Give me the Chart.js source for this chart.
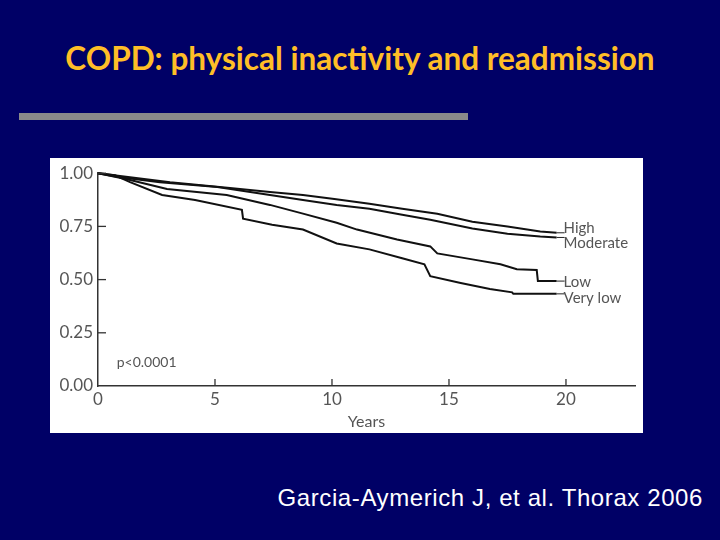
<!DOCTYPE html>
<html>
<head>
<meta charset="utf-8">
<script src="https://cdn.jsdelivr.net/npm/chart.js@4"></script>
<style>
  html, body { margin: 0; padding: 0; }
  body { width: 720px; height: 540px; background: #000066; position: relative; overflow: hidden; }
  #titulo { position: absolute; left: 0; top: 39px; width: 720px; text-align: center;
    font-family: Lato, sans-serif; font-weight: bold; font-size: 31.5px; color: #ffbe27; }
  #barra { position: absolute; left: 19px; top: 113px; width: 449px; height: 7px; background: #8a8a8a; }
  #painel { position: absolute; left: 50px; top: 158px; width: 593px; height: 275px; background: #fff; }
  #citacao { position: absolute; right: 17px; top: 484px; font-family: "Liberation Sans", Arial, sans-serif;
    font-size: 24px; letter-spacing: 0.6px; color: #fff; }
</style>
</head>
<body>
<div id="titulo">COPD: physical inactivity and readmission</div>
<div id="barra"></div>
<div id="painel"><canvas id="kmChart" width="593" height="275"></canvas></div>
<div id="citacao">Garcia-Aymerich J, et al. Thorax 2006</div>
<script>
// Curvas de Kaplan-Meier (anos, proporção sem readmissão)
const grupos = ["High", "Moderate", "Low", "Very low"];

const anosHigh = [0, 1.37, 3.08, 5.64, 7.35, 8.76, 10.1, 11.6, 13.0, 14.5, 16.0, 17.5, 18.9, 19.6];
const survHigh = [1.0, 0.981, 0.958, 0.93, 0.912, 0.898, 0.879, 0.856, 0.833, 0.809, 0.772, 0.749, 0.726, 0.72];

const anosModerate = [0, 0.94, 2.65, 5.1, 7.35, 8.76, 10.2, 11.6, 13.0, 14.2, 16.0, 17.5, 18.9, 19.6];
const survModerate = [1.0, 0.981, 0.958, 0.935, 0.898, 0.874, 0.851, 0.833, 0.805, 0.781, 0.74, 0.716, 0.702, 0.698];

const anosLow = [0, 1.24, 2.95, 5.5, 7.35, 8.76, 10.2, 11.07, 12.78, 14.2, 14.5, 16.0, 17.2, 17.9, 18.75, 18.8, 19.6];
const survLow = [1.0, 0.972, 0.926, 0.898, 0.851, 0.81, 0.767, 0.735, 0.688, 0.656, 0.623, 0.595, 0.572, 0.549, 0.545, 0.493, 0.493];

const anosVeryLow = [0, 0.73, 1.37, 2.74, 4.15, 6.15, 6.2, 7.44, 8.76, 10.2, 11.6, 13.0, 13.95, 14.2, 15.5, 16.75, 17.7, 17.75, 19.6];
const survVeryLow = [1.0, 0.99, 0.958, 0.898, 0.874, 0.828, 0.786, 0.758, 0.735, 0.67, 0.642, 0.60, 0.572, 0.516, 0.484, 0.456, 0.44, 0.433, 0.433];

const ticksX = [5, 10, 15, 20];
const ticksY = [0, 0.25, 0.5, 0.75, 1.0];
const textoP = "p<0.0001";

function pontos(xs, ys) {
  return xs.map((x, i) => ({ x: x, y: ys[i] }));
}

const series = [
  pontos(anosHigh, survHigh),
  pontos(anosModerate, survModerate),
  pontos(anosLow, survLow),
  pontos(anosVeryLow, survVeryLow)
];

// deslocamento vertical de cada rótulo em relação ao fim da curva
const deslocRotulo = [-5, 6, 1, 4];

const cinza = "#555";

const extras = {
  id: "extras",
  afterDraw(chart) {
    const ctx = chart.ctx;
    const sx = chart.scales.x, sy = chart.scales.y;
    ctx.save();
    ctx.strokeStyle = "#333";
    ctx.lineWidth = 1.3;
    // marcas para dentro
    ticksX.forEach(v => {
      const px = sx.getPixelForValue(v);
      ctx.beginPath();
      ctx.moveTo(px, sy.bottom);
      ctx.lineTo(px, sy.bottom - 7);
      ctx.stroke();
    });
    ticksY.forEach(v => {
      if (v === 0) return;
      const py = sy.getPixelForValue(v);
      ctx.beginPath();
      ctx.moveTo(sx.left, py);
      ctx.lineTo(sx.left + 8, py);
      ctx.stroke();
    });
    // rótulos das curvas
    ctx.fillStyle = cinza;
    ctx.font = "15px Lato, sans-serif";
    ctx.textBaseline = "middle";
    ctx.textAlign = "left";
    series.forEach((s, i) => {
      const ult = s[s.length - 1];
      const px = sx.getPixelForValue(ult.x);
      const py = sy.getPixelForValue(ult.y);
      ctx.strokeStyle = "#222";
      ctx.lineWidth = 1;
      ctx.beginPath();
      ctx.moveTo(px, py);
      ctx.lineTo(px + 8, py);
      ctx.stroke();
      ctx.fillText(grupos[i], px + 7, py + deslocRotulo[i]);
    });
    ctx.font = "14px Lato, sans-serif";
    ctx.fillText(textoP, sx.getPixelForValue(0.8), sy.getPixelForValue(0.112));
    ctx.restore();
  }
};

new Chart(document.getElementById("kmChart"), {
  type: "line",
  data: {
    datasets: series.map((s, i) => ({
      label: grupos[i],
      data: s,
      borderColor: "#111",
      borderWidth: 2,
      tension: 0,
      pointRadius: 0,
      fill: false,
      clip: false
    }))
  },
  options: {
    responsive: false,
    animation: false,
    events: [],
    layout: { padding: { top: 13, right: 8, left: 0, bottom: 0 } },
    plugins: { legend: { display: false }, tooltip: { enabled: false } },
    scales: {
      x: {
        type: "linear",
        min: 0,
        max: 22.95,
        afterFit(scale) { scale.height = 47; },
        afterBuildTicks(scale) { scale.ticks = [0].concat(ticksX).map(v => ({ value: v })); },
        grid: { drawOnChartArea: false, drawTicks: false },
        border: { color: "#333", width: 1.5 },
        ticks: { color: cinza, font: { family: "Lato", size: 17 }, padding: 3 },
        title: { display: true, text: "Years", color: cinza, font: { family: "Lato", size: 16 }, padding: { top: 0, bottom: 2 } }
      },
      y: {
        type: "linear",
        min: 0,
        max: 1,
        afterFit(scale) { scale.width = 48; },
        afterBuildTicks(scale) { scale.ticks = ticksY.map(v => ({ value: v })); },
        grid: { drawOnChartArea: false, drawTicks: false },
        border: { color: "#333", width: 1.5 },
        ticks: { color: cinza, font: { family: "Lato", size: 17 }, padding: 5,
          callback: v => v.toFixed(2) }
      }
    }
  },
  plugins: [extras]
});
</script>
</body>
</html>
